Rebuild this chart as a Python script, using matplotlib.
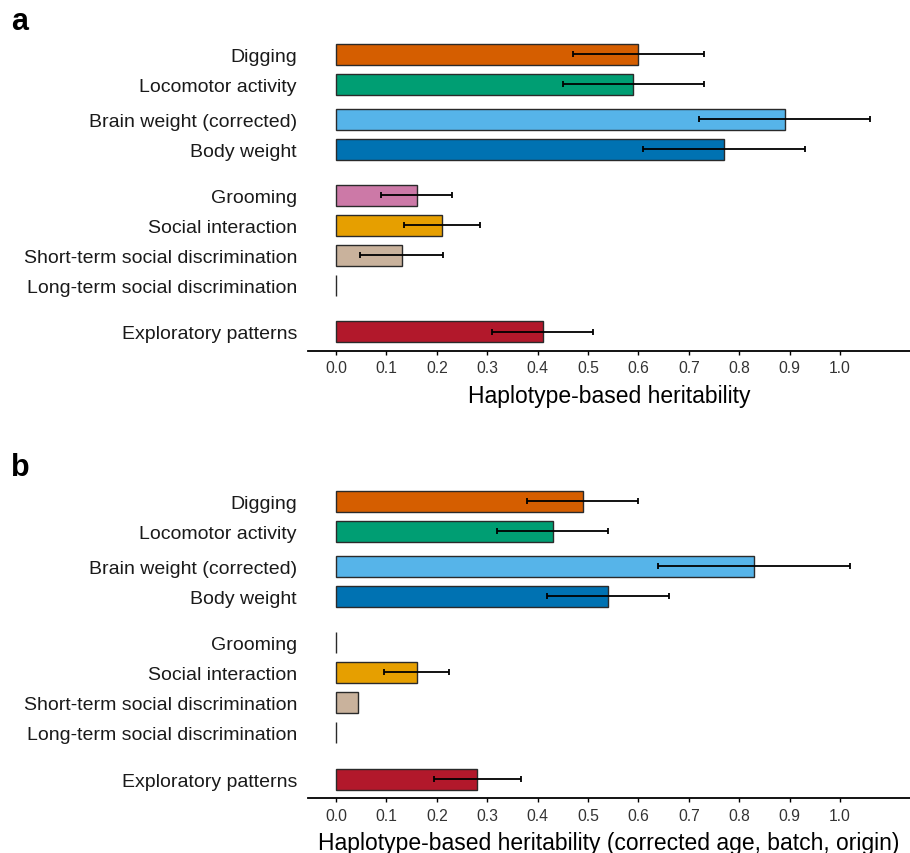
import numpy as np
import matplotlib.pyplot as plt

plt.rcParams['font.family'] = ['Liberation Sans', 'DejaVu Sans']

traits = ["Digging", "Locomotor activity", "Brain weight (corrected)", "Body weight",
          "Grooming", "Social interaction", "Short-term social discrimination",
          "Long-term social discrimination", "Exploratory patterns"]
colors = ["#D55E00", "#009E73", "#56B4E9", "#0072B2", "#CC79A7",
          "#E69F00", "#C9B29C", "#B8B8B8", "#B2182B"]

# panel a: haplotype-based heritability
h2_a = [0.60, 0.59, 0.89, 0.77, 0.16, 0.21, 0.13, 0.0, 0.41]
lo_a = [0.47, 0.45, 0.72, 0.61, 0.09, 0.135, 0.047, np.nan, 0.31]
hi_a = [0.73, 0.73, 1.06, 0.93, 0.23, 0.285, 0.213, np.nan, 0.51]

# panel b: corrected for age, batch, origin
h2_b = [0.49, 0.43, 0.83, 0.54, 0.0, 0.16, 0.044, 0.0, 0.28]
lo_b = [0.379, 0.319, 0.639, 0.419, np.nan, 0.096, np.nan, np.nan, 0.194]
hi_b = [0.599, 0.539, 1.019, 0.660, np.nan, 0.225, np.nan, np.nan, 0.367]

xticks = [0.0, 0.1, 0.2, 0.3, 0.4, 0.5, 0.6, 0.7, 0.8, 0.9, 1.0]

# row positions (gaps between trait groups)
ypos = np.array([0, 1, 2.17, 3.17, 4.7, 5.7, 6.7, 7.7, 9.25])

fig = plt.figure(figsize=(9.1, 8.54), dpi=100)
ax_a = fig.add_axes([308 / 910, 1 - 351.7 / 854, 602 / 910, 314.4 / 854])
ax_b = fig.add_axes([308 / 910, 1 - 799 / 854, 602 / 910, 314.8 / 854])


def draw(ax, h2, lo, hi, xlabel):
    h2 = np.array(h2)
    lo = np.array(lo)
    hi = np.array(hi)
    ax.barh(ypos, h2, height=0.7, color=colors, edgecolor="#2a2a2a", linewidth=1.0, zorder=2)
    ok = ~np.isnan(lo)
    ax.errorbar(h2[ok], ypos[ok], xerr=[h2[ok] - lo[ok], hi[ok] - h2[ok]], fmt="none",
                ecolor="black", elinewidth=1.3, capsize=2.4, capthick=1.3, zorder=3)
    ax.set_ylim(9.88, -0.6)
    ax.set_xlim(-0.0556, 1.139)
    ax.set_yticks(ypos)
    ax.set_yticklabels(traits, fontsize=14, color="#1a1a1a")
    ax.set_xticks(xticks)
    ax.set_xticklabels([f"{t:.1f}" for t in xticks], fontsize=11.3, color="#333333")
    ax.tick_params(axis="y", length=0, pad=8)
    ax.tick_params(axis="x", length=3, width=1, pad=4)
    for s in ["top", "right", "left"]:
        ax.spines[s].set_visible(False)
    ax.spines["bottom"].set_linewidth(1.3)
    ax.set_xlabel(xlabel, fontsize=16.5, labelpad=6)


draw(ax_a, h2_a, lo_a, hi_a, "Haplotype-based heritability")
draw(ax_b, h2_b, lo_b, hi_b, "Haplotype-based heritability (corrected age, batch, origin)")

fig.text(11 / 910, 1 - 30 / 854, "a", fontsize=22, fontweight="bold")
fig.text(11 / 910, 1 - 476 / 854, "b", fontsize=22, fontweight="bold")

fig.savefig("out.png", dpi=100)
